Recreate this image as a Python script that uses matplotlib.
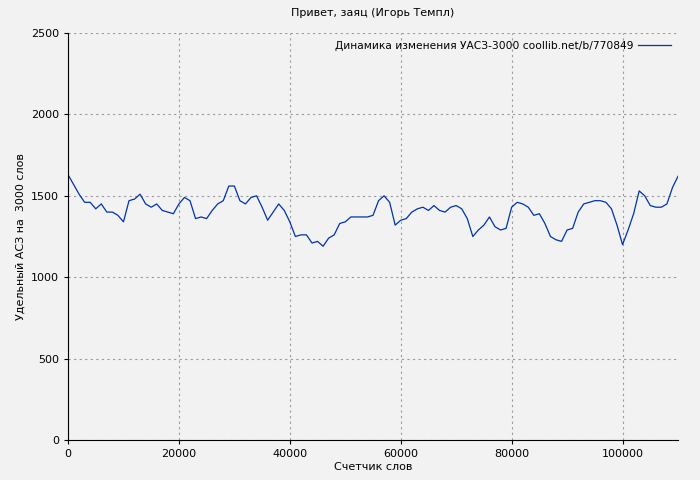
import matplotlib
matplotlib.use("Agg")
import matplotlib.pyplot as plt
import numpy as np

words = np.arange(0, 111000, 1000)
asz = [1630,1570,1510,1460,1460,1420,1450,1400,1400,1380,1340,1470,1480,1510,1450,1430,1450,1410,1400,1390,
       1450,1490,1470,1360,1370,1360,1410,1450,1470,1560,1560,1470,1450,1490,1500,1430,1350,1400,1450,1410,
       1340,1250,1260,1260,1210,1220,1190,1240,1260,1330,1340,1370,1370,1370,1370,1380,1470,1500,1460,1320,
       1350,1360,1400,1420,1430,1410,1440,1410,1400,1430,1440,1420,1360,1250,1290,1320,1370,1310,1290,1300,
       1430,1460,1450,1430,1380,1390,1330,1250,1230,1220,1290,1300,1400,1450,1460,1470,1470,1460,1420,1320,
       1200,1290,1390,1530,1500,1440,1430,1430,1450,1550,1620]

bg = "#f2f2f2"
fig = plt.figure(figsize=(7, 4.8), dpi=100, facecolor=bg)
ax = fig.add_axes([68/700, 1-440/480, 610/700, 407/480], facecolor=bg)
ax.plot(words, asz, color="#0033aa", lw=0.9,
        label="Динамика изменения УАСЗ-3000 coollib.net/b/770849")
ax.set_xlim(0, 110000)
ax.set_ylim(0, 2500)
ax.set_xticks(range(0, 110001, 20000))
ax.set_yticks(range(0, 2501, 500))
ax.grid(True, color="#999999", ls=(0, (2, 3)), lw=0.8)
ax.tick_params(labelsize=8, direction="out", length=3)
for s in ["top", "right"]:
    ax.spines[s].set_visible(False)
ax.set_title("Привет, заяц (Игорь Темпл)", fontsize=8, pad=12)
ax.set_xlabel("Счетчик слов", fontsize=8, labelpad=2)
ax.set_ylabel("Удельный АСЗ на  3000 слов", fontsize=8)
leg = ax.legend(loc="upper right", frameon=False, fontsize=7.7, markerfirst=False,
                handlelength=3.0, handletextpad=0.5, borderaxespad=0.3)
fig.savefig("out.png", dpi=100, facecolor=bg)
